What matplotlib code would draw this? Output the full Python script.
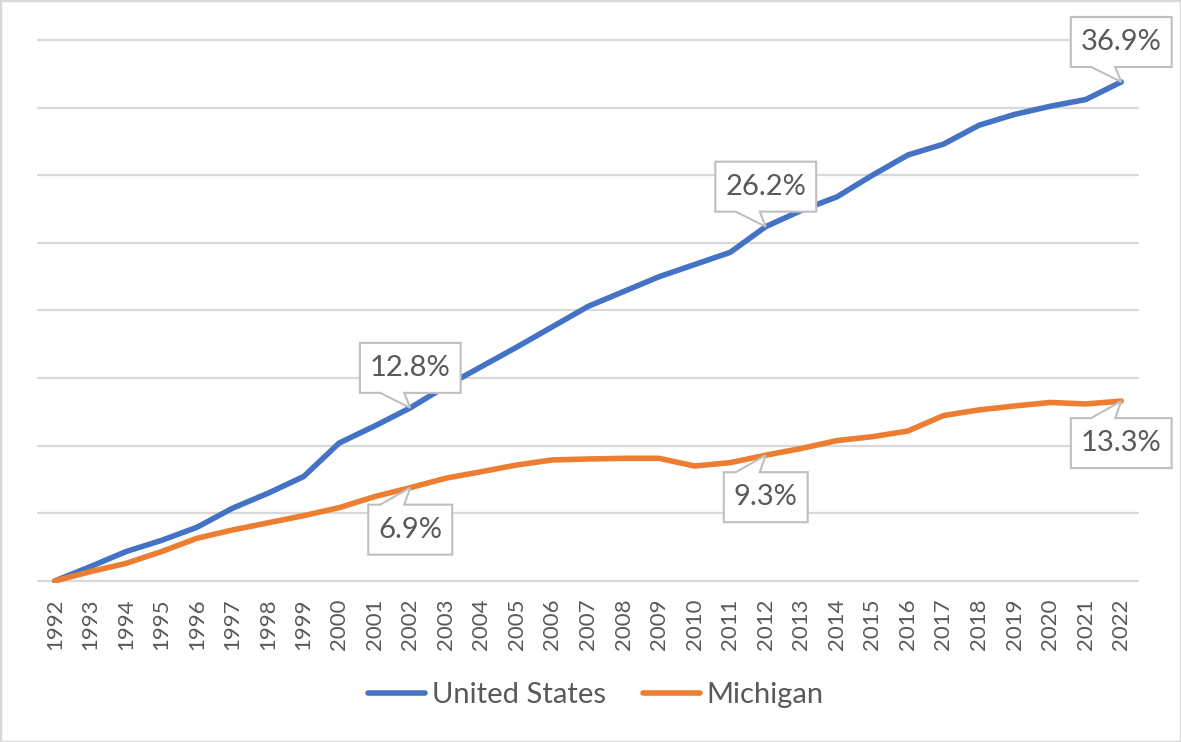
import matplotlib
matplotlib.use("Agg")
import matplotlib.pyplot as plt
import matplotlib.transforms as mtransforms
from matplotlib.patches import Polygon, Rectangle

# ---------------- data ----------------
years = list(range(1992, 2023))
us_values = [0.0, 1.06, 2.17, 3.0, 3.97, 5.38, 6.49, 7.72, 10.2, 11.46, 12.8,
             14.4, 15.85, 17.3, 18.8, 20.3, 21.4, 22.5, 23.4, 24.3, 26.2,
             27.4, 28.4, 30.0, 31.5, 32.3, 33.7, 34.5, 35.1, 35.6, 36.9]
mi_values = [0.0, 0.69, 1.3, 2.17, 3.16, 3.77, 4.3, 4.83, 5.42, 6.24, 6.9,
             7.6, 8.08, 8.58, 8.95, 9.02, 9.07, 9.07, 8.5, 8.75, 9.3,
             9.8, 10.38, 10.67, 11.09, 12.23, 12.65, 12.94, 13.2, 13.09, 13.3]
series_names = ["United States", "Michigan"]
us_label_years = [2002, 2012, 2022]
mi_label_years = [2002, 2012, 2022]
y_ticks = [0, 5, 10, 15, 20, 25, 30, 35, 40]

# ---------------- style ----------------
plt.rcParams['font.family'] = ['Lato', 'DejaVu Sans']
BLUE = '#4472C4'
ORANGE = '#ED7D31'
GRID = '#D9D9D9'
TEXT = '#595959'

W, H = 1181, 742
fig = plt.figure(figsize=(W / 100, H / 100), dpi=100)
fig.patch.set_facecolor('white')

# axes placement (pixels)
left_px, right_px = 37, 1139
top_px, bottom_px = 38, 583
ax = fig.add_axes([left_px / W, 1 - bottom_px / H,
                   (right_px - left_px) / W, (bottom_px - top_px) / H])

ax.plot(years, us_values, color=BLUE, lw=4.0, solid_capstyle='round',
        solid_joinstyle='round', label=series_names[0], zorder=3)
ax.plot(years, mi_values, color=ORANGE, lw=4.0, solid_capstyle='round',
        solid_joinstyle='round', label=series_names[1], zorder=3)

ax.set_xlim(years[0] - 0.5, years[-1] + 0.5)
ax.set_ylim(-0.15, 40.15)
ax.set_yticks(y_ticks)
ax.set_yticklabels([])
ax.tick_params(axis='y', length=0)
ax.set_xticks(years)
ax.set_xticklabels([str(y) for y in years], rotation=90, fontsize=16,
                   color=TEXT)
ax.tick_params(axis='x', length=0, pad=11)
ax.yaxis.grid(True, color=GRID, lw=1.6)
ax.set_axisbelow(True)
for s in ax.spines.values():
    s.set_visible(False)

# legend
leg = fig.legend(loc='center', bbox_to_anchor=(596 / W, 1 - 695 / H),
                 ncol=2, frameon=False, fontsize=21, handlelength=1.95,
                 handletextpad=0.25, columnspacing=1.25, labelcolor=TEXT)
for line in leg.get_lines():
    line.set_linewidth(4.0)

# figure border
fig.add_artist(Rectangle((0, 0), 1, 1, transform=fig.transFigure, fill=False,
                         edgecolor=GRID, lw=2.5))

# callouts
fig.canvas.draw()
renderer = fig.canvas.get_renderer()


def callout(x, y, text, above):
    gap, bh = 15, 50
    cy = gap + bh / 2 if above else -(gap + 2 + bh / 2)
    t = ax.annotate(text, xy=(x, y), xytext=(0, cy), textcoords='offset pixels',
                    ha='center', va='center', fontsize=21, color=TEXT,
                    zorder=7)
    bb = t.get_window_extent(renderer)
    w = bb.width + 20
    trans = mtransforms.ScaledTranslation(x, y, ax.transData)
    if above:
        b, tp = gap, gap + bh
    else:
        b, tp = -(gap + 2), -(gap + 2 + bh)
    verts = [(-w / 2, b), (-30, b), (0, 0), (-6, b), (w / 2, b),
             (w / 2, tp), (-w / 2, tp)]
    poly = Polygon(verts, closed=True, facecolor='white', edgecolor='#BFBFBF',
                   lw=1.5, transform=trans, zorder=6, clip_on=False)
    ax.add_patch(poly)


for yr in us_label_years:
    v = us_values[years.index(yr)]
    callout(yr, v, f"{v:.1f}%", True)
for yr in mi_label_years:
    v = mi_values[years.index(yr)]
    callout(yr, v, f"{v:.1f}%", False)

fig.savefig('out.png', dpi=100, facecolor='white')
